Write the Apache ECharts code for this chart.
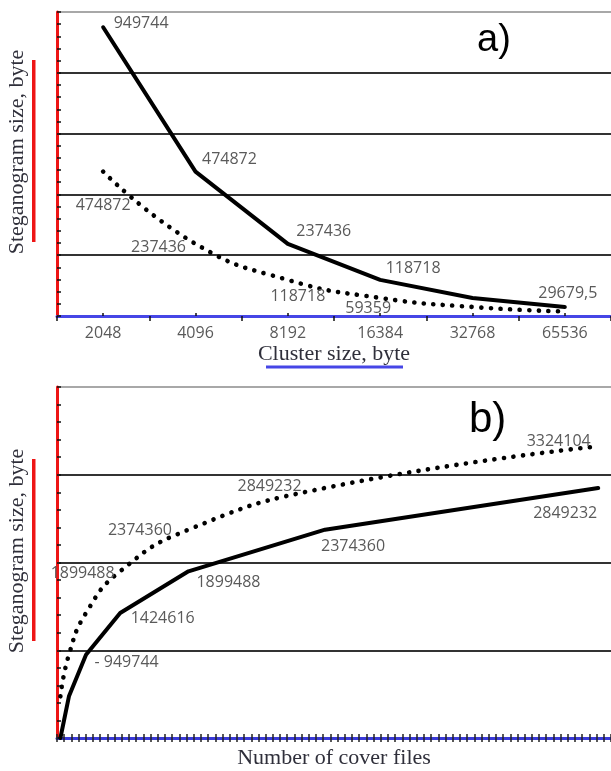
<!DOCTYPE html>
<html>
<head>
<meta charset="utf-8">
<script src="https://cdn.jsdelivr.net/npm/echarts@6/dist/echarts.min.js"></script>
<style>html,body{margin:0;padding:0;background:#fff;}#c{width:611px;height:771px;}</style>
</head>
<body>
<div id="c"></div>
<script>
// ---- data (a) ----
const clusterSizes = ['2048', '4096', '8192', '16384', '32768', '65536'];
const stegoA_solid = [949744, 474872, 237436, 118718, 59359, 29679.5];
const stegoA_dotted = [474872, 237436, 118718, 59359, 29679.5, 14839.75];
// ---- data (b) ----
const coverFiles = [1, 2, 4, 8, 16, 32, 64];
const stegoB_solid = [0, 474872, 949744, 1424616, 1899488, 2374360, 2849232];
const stegoB_dotted = [474872, 949744, 1424616, 1899488, 2374360, 2849232, 3324104];

// label placement (style only)
const labA_solid = [['right', [5, -4]], ['right', [1, -12]], ['right', [3, -12]], ['right', [0, -11]], null, ['top', [3, 0]]];
const labA_dotted = [['bottom', [0, 20]], ['left', [-4, 4]], ['bottom', [10, 3]], ['bottom', [-12, -3]], null, null];
const labB_solid = [null, null, ['right', [3, 8], true], ['right', [5, 5]], ['right', [2.5, 11]], ['bottom', [28, 3]], ['bottom', [-33, 12]]];
const labB_dotted = [null, null, null, ['left', [0, 2]], ['left', [-11, 1]], ['left', [-18, -2]], ['left', [-2, -5]]];

const LABEL_FONT = { fontFamily: 'Open Sans', fontSize: 16, color: '#5a5a5a' };
const fmt = v => String(v).replace('.', ',');

function mkItems(values, labs, xs) {
  return values.map((v, i) => {
    const l = labs[i];
    const item = { value: xs ? [xs[i], v] : v };
    if (l) {
      item.label = Object.assign({
        show: true, position: l[0], offset: l[1],
        formatter: l[2] ? ('- ' + fmt(v)) : fmt(v)
      }, LABEL_FONT);
    } else {
      item.label = { show: false };
    }
    return item;
  });
}

const solidStyle = { color: '#000', width: 4, cap: 'round', join: 'round' };
const dottedStyle = { color: '#000', width: 4.6, type: [0.1, 9.5], cap: 'round' };
const invisible = { color: 'rgba(0,0,0,0)' };
const nameFont = { fontFamily: 'Liberation Serif', fontSize: 22, color: '#2f2f3a' };

const chart = echarts.init(document.getElementById('c'), null, { renderer: 'canvas' });
chart.setOption({
  animation: false,
  backgroundColor: '#fff',
  grid: [
    { left: 57, top: 12, right: -6, bottom: 455 },
    { left: 57, top: 387, right: -13, bottom: 33 }
  ],
  xAxis: [
    { // 0: top categories
      type: 'category', gridIndex: 0, position: 'bottom', data: clusterSizes, boundaryGap: true,
      axisLine: { show: true, lineStyle: { color: '#4646e6', width: 3 } },
      axisTick: { show: true, length: 5, lineStyle: { color: '#111', width: 1.5 } },
      axisLabel: Object.assign({ margin: 9 }, LABEL_FONT),
      name: 'Cluster size, byte', nameLocation: 'middle', nameGap: 27,
      nameTextStyle: nameFont,
      splitLine: { show: false }
    },
    { // 1: top centre ticks
      type: 'category', gridIndex: 0, position: 'bottom', offset: 0, data: clusterSizes, boundaryGap: true,
      axisLine: { show: false },
      axisTick: { show: true, alignWithLabel: true, inside: true, length: 3, lineStyle: { color: '#111', width: 1.5 } },
      axisLabel: { show: false }, splitLine: { show: false }
    },
    { // 2: bottom data axis (hidden)
      type: 'value', gridIndex: 1, position: 'bottom', min: 0.6, max: 65.5, show: false,
      splitLine: { show: false }
    },
    { // 3: bottom tick axis, outside ticks
      type: 'value', gridIndex: 1, position: 'bottom', offset: 0, min: 0, max: 77, interval: 1,
      axisLine: { show: true, lineStyle: { color: '#3a3ad8', width: 3 } },
      axisTick: { show: true, length: 4, lineStyle: { color: '#222', width: 1.5 } },
      axisLabel: { show: false }, splitLine: { show: false },
      name: 'Number of cover files', nameLocation: 'middle', nameGap: 9,
      nameTextStyle: nameFont
    },
    { // 4: bottom tick axis, inside ticks
      type: 'value', gridIndex: 1, position: 'bottom', offset: 0, min: 0, max: 77, interval: 1,
      axisLine: { show: false },
      axisTick: { show: true, inside: true, length: 4, lineStyle: { color: '#222', width: 1.5 } },
      axisLabel: { show: false }, splitLine: { show: false }
    }
  ],
  yAxis: [
    {
      type: 'value', gridIndex: 0, position: 'left', min: 0, max: 1000000, interval: 200000,
      axisLine: { show: true, lineStyle: { color: '#ee1515', width: 3 } },
      axisTick: { show: true, inside: true, length: 4, lineStyle: { color: '#111', width: 1.5 } },
      minorTick: { show: true, splitNumber: 5, length: 4, lineStyle: { color: '#111', width: 1.5 } },
      axisLabel: { show: false },
      splitLine: { show: true, lineStyle: { color: ['#333', '#333', '#333', '#333', '#333', '#a8a8a8'], width: 2 } }
    },
    {
      type: 'value', gridIndex: 1, position: 'left', min: 0, max: 4000000, interval: 1000000,
      axisLine: { show: true, lineStyle: { color: '#ee1515', width: 3 } },
      axisTick: { show: true, inside: true, length: 4, lineStyle: { color: '#111', width: 1.5 } },
      minorTick: { show: true, splitNumber: 5, length: 4, lineStyle: { color: '#111', width: 1.5 } },
      axisLabel: { show: false },
      splitLine: { show: true, lineStyle: { color: ['#333', '#333', '#333', '#333', '#a8a8a8'], width: 2 } }
    }
  ],
  series: [
    {
      type: 'line', xAxisIndex: 0, yAxisIndex: 0, z: 5,
      data: mkItems(stegoA_solid, labA_solid),
      symbol: 'circle', symbolSize: 1, itemStyle: invisible,
      lineStyle: solidStyle, smooth: false
    },
    {
      type: 'line', xAxisIndex: 0, yAxisIndex: 0, z: 5,
      data: mkItems(stegoA_dotted, labA_dotted),
      symbol: 'circle', symbolSize: 1, itemStyle: invisible,
      lineStyle: dottedStyle, smooth: 0.5
    },
    {
      type: 'line', xAxisIndex: 2, yAxisIndex: 1, z: 5,
      data: mkItems(stegoB_solid, labB_solid, coverFiles),
      symbol: 'circle', symbolSize: 1, itemStyle: invisible,
      lineStyle: solidStyle, smooth: false
    },
    {
      type: 'line', xAxisIndex: 2, yAxisIndex: 1, z: 5,
      data: mkItems(stegoB_dotted, labB_dotted, coverFiles),
      symbol: 'circle', symbolSize: 1, itemStyle: invisible,
      lineStyle: dottedStyle, smooth: 0.5
    }
  ],
  graphic: [
    { type: 'text', left: 477, top: 22, style: { text: 'a)', fontFamily: 'Liberation Sans', fontSize: 38, fill: '#000' } },
    { type: 'text', left: 469, top: 399, style: { text: 'b)', fontFamily: 'Liberation Sans', fontSize: 42, fill: '#000' } },
    { type: 'text', x: 17, y: 152, rotation: Math.PI / 2,
      style: { text: 'Steganogram size, byte', align: 'center', verticalAlign: 'middle', fill: nameFont.color, font: '22px "Liberation Serif"' } },
    { type: 'text', x: 17, y: 551, rotation: Math.PI / 2,
      style: { text: 'Steganogram size, byte', align: 'center', verticalAlign: 'middle', fill: nameFont.color, font: '22px "Liberation Serif"' } },
    { type: 'rect', shape: { x: 32, y: 60, width: 3.5, height: 182 }, style: { fill: '#ee1515' } },
    { type: 'rect', shape: { x: 32, y: 459, width: 3.5, height: 182 }, style: { fill: '#ee1515' } },
    { type: 'rect', shape: { x: 266, y: 365.5, width: 137, height: 3 }, style: { fill: '#4646e6' } }
  ]
});
</script>
</body>
</html>
